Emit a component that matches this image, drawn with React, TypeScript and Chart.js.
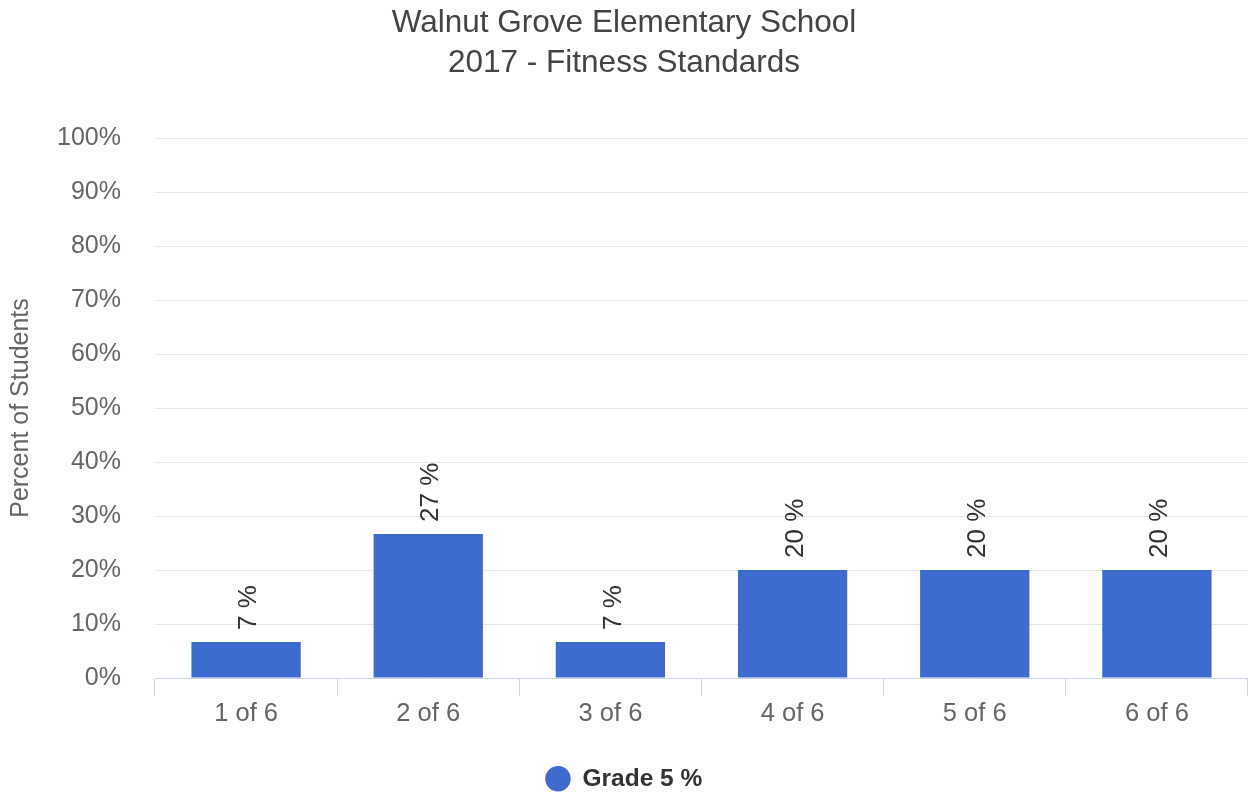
import React, { useEffect, useRef } from "react";
import { Chart, registerables } from "chart.js";

Chart.register(...registerables);

const titleLines = ["Walnut Grove Elementary School", "2017 - Fitness Standards"];
const categories = ["1 of 6", "2 of 6", "3 of 6", "4 of 6", "5 of 6", "6 of 6"];
const seriesName = "Grade 5 %";
const grade5Values = [6.67, 26.67, 6.67, 20, 20, 20];
const yAxisTitle = "Percent of Students";
const yTickStep = 10;
const yMax = 100;

const FONT = "'Liberation Sans', Arial, Helvetica, sans-serif";
const BAR_COLOR = "#3e6bd0";

const barLabelPlugin = {
  id: "barLabels",
  afterDatasetsDraw(chart: any) {
    const ctx = chart.ctx;
    const meta = chart.getDatasetMeta(0);
    const data = chart.data.datasets[0].data as number[];
    ctx.save();
    ctx.font = `26px ${FONT}`;
    ctx.fillStyle = "#333333";
    ctx.textAlign = "left";
    ctx.textBaseline = "middle";
    meta.data.forEach((bar: any, i: number) => {
      const label = Math.round(data[i]) + " %";
      ctx.save();
      ctx.translate(bar.x + 3, bar.y - 12);
      ctx.rotate(-Math.PI / 2);
      ctx.fillText(label, 0, 0);
      ctx.restore();
    });
    ctx.restore();
  },
};

export default function App() {
  const canvasRef = useRef<HTMLCanvasElement | null>(null);

  useEffect(() => {
    document.body.style.margin = "0";
    const canvas = canvasRef.current;
    if (!canvas) return;
    const chart = new Chart(canvas, {
      type: "bar",
      data: {
        labels: categories,
        datasets: [
          {
            label: seriesName,
            data: grade5Values,
            backgroundColor: BAR_COLOR,
            borderWidth: 0,
            barPercentage: 0.6,
            categoryPercentage: 1.0,
          },
        ],
      },
      options: {
        responsive: false,
        animation: false,
        layout: { padding: { left: 0, right: 0, top: 0, bottom: -6 } },
        plugins: {
          title: {
            display: true,
            text: titleLines,
            color: "#444444",
            font: { family: FONT, size: 31.5, weight: "normal", lineHeight: 1.27 },
            padding: { top: 3, bottom: 55 },
          },
          legend: {
            display: true,
            position: "bottom",
            labels: {
              usePointStyle: true,
              pointStyle: "circle",
              boxWidth: 24.5,
              boxHeight: 18,
              color: "#333333",
              font: { family: FONT, size: 24.5, weight: "bold" },
              padding: 1,
            },
          },
          tooltip: { enabled: false },
        },
        scales: {
          x: {
            offset: true,
            grid: {
              offset: true,
              drawOnChartArea: false,
              drawTicks: true,
              tickLength: 18,
              color: "#ccd6eb",
            },
            border: { display: true, color: "#ccd6eb", width: 1 },
            ticks: {
              color: "#666666",
              font: { family: FONT, size: 25.5 },
              padding: 3,
              maxRotation: 0,
            },
            afterFit(scale: any) {
              scale.height = 87.5;
            },
          },
          y: {
            min: 0,
            max: yMax,
            grid: { color: "#e6e6e6", drawTicks: false, lineWidth: 1 },
            border: { display: false },
            ticks: {
              stepSize: yTickStep,
              color: "#666666",
              font: { family: FONT, size: 25 },
              padding: 34,
              callback: (v: any) => v + "%",
            },
            title: {
              display: true,
              text: yAxisTitle,
              color: "#666666",
              font: { family: FONT, size: 25 },
              padding: { top: 6, bottom: 0 },
            },
            afterFit(scale: any) {
              scale.width = 155;
            },
          },
        },
      },
      plugins: [barLabelPlugin],
    });
    return () => chart.destroy();
  }, []);

  return (
    <div style={{ width: 1248, height: 795, background: "#ffffff" }}>
      <canvas ref={canvasRef} width={1248} height={795} />
    </div>
  );
}
